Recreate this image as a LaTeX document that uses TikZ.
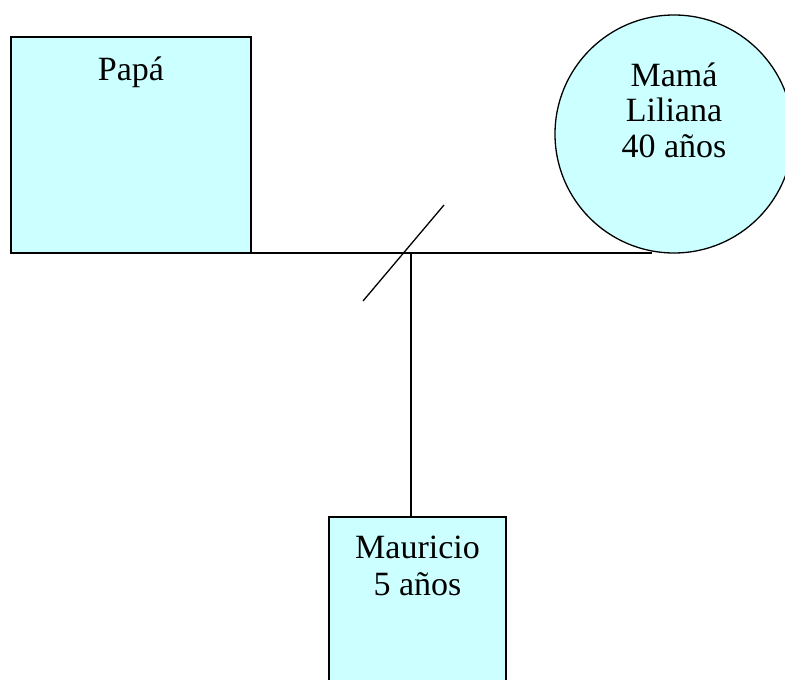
\documentclass[tikz,border=0pt]{standalone}
\usepackage{fontspec}
\setmainfont{Liberation Serif}
\definecolor{boxfill}{HTML}{CCFFFF}
\begin{document}
\begin{tikzpicture}[x=1pt,y=-1pt,
  shapebox/.style={draw=black, fill=boxfill, line width=1.3pt, inner sep=0pt, outer sep=0pt},
  lbl/.style={font=\fontsize{34}{35}\selectfont, anchor=base, inner sep=0pt},
  conn/.style={line width=1.3pt}]
\useasboundingbox (0,0) rectangle (785,680);
\clip (0,0) rectangle (785,680);
\fill[white] (0,0) rectangle (785,680);
% shapes
\node[shapebox, rectangle, minimum width=240pt, minimum height=216pt] (papa) at (131,145) {};
\node[shapebox, circle, minimum size=238pt] (mama) at (674,134) {};
\node[shapebox, rectangle, minimum width=177pt, minimum height=190pt] (mau) at (417.5,612) {};
% texts
\node[lbl] (tpapa) at (131,80) {Papá};
\node[lbl] (tmama1) at (674,86) {Mamá};
\node[lbl] (tmama2) at (674,121) {Liliana};
\node[lbl] (tmama3) at (674,157) {40 años};
\node[lbl] (tmau1) at (417.5,558) {Mauricio};
\node[lbl] (tmau2) at (417.5,595) {5 años};
% connectors
\coordinate (hl) at (187,253);
\coordinate (hr) at (652,253);
\coordinate (j) at (411,253);
\coordinate (d1) at (363,301);
\coordinate (d2) at (444,205);
\draw[conn] (hl) -- (hr);
\draw[conn] (j) -- (j |- mau.north);
\draw[conn] (d1) -- (d2);
\end{tikzpicture}
\end{document}
